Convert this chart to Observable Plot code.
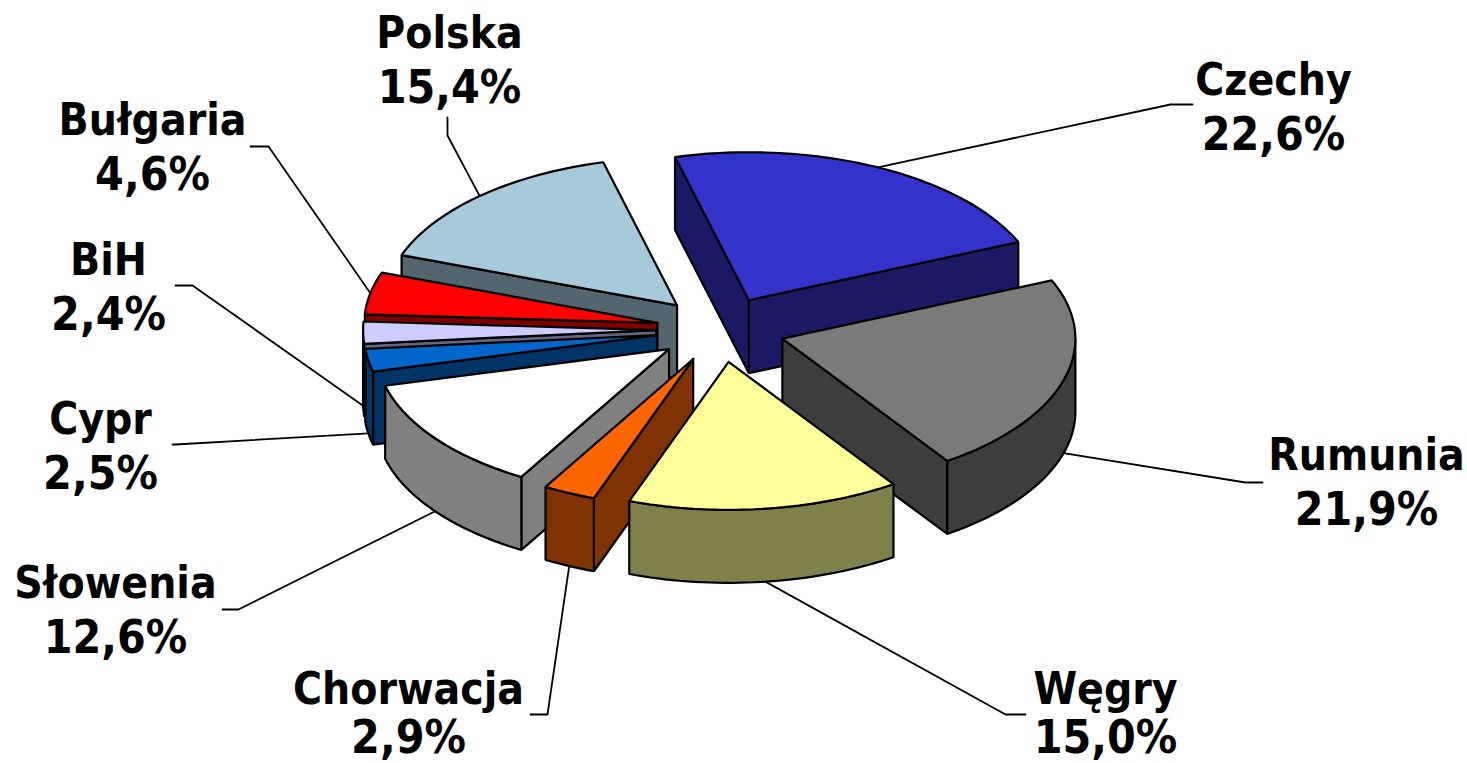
<!DOCTYPE html>
<html lang="pl">
<head>
<meta charset="utf-8">
<title>Udział krajów</title>
<script src="https://cdn.jsdelivr.net/npm/d3@7"></script>
<script src="https://cdn.jsdelivr.net/npm/@observablehq/plot@0.6"></script>
<style>
  html, body { margin: 0; padding: 0; background: #fff; overflow: hidden; }
  svg { display: block; }
</style>
</head>
<body>
<div id="chart"></div>
<script>
// Data, clockwise from the first slice
const categories = ["Czechy", "Rumunia", "Węgry", "Chorwacja", "Słowenia", "Cypr", "BiH", "Bułgaria", "Polska"];
const shares = [22.6, 21.9, 15.0, 2.9, 12.6, 2.5, 2.4, 4.6, 15.4];
const valueLabels = ["22,6%", "21,9%", "15,0%", "2,9%", "12,6%", "2,5%", "2,4%", "4,6%", "15,4%"];
const topColors = ["#3333CC", "#7A7A7A", "#FFFF99", "#FF6600", "#FFFFFF", "#0066CC", "#CCCCFF", "#FF0000", "#A6CAD9"];
const wallColors = ["#1A1A66", "#3D3D3D", "#80804D", "#803300", "#808080", "#003366", "#666680", "#800000", "#53656D"];

// Label layout in the chart's pixel space
const labelX = [1273, 1366, 1105, 408, 115, 100, 108, 152, 449];
const nameY = [80, 455, 689, 689, 583, 419, 260, 120, 33];
const valueY = [135, 510, 738, 738, 638, 474, 315, 175, 88];
const elbowX = [1170, 1245, 1005, 547, 238, 175, 192, 268, 447];
const elbowY = [104, 482, 714, 714, 609, 444, 285, 146, 135];
const stubX = [1192, 1262, 1025, 530, 222, 172, 175, 250, 447];
const stubY = [104, 482, 714, 714, 609, 444, 285, 146, 117];

// Pie projection
const cx = 720, cy = 329, rx = 293, ry = 148, depth = 73, explode = 0.22, startAngle = -14.6;
// Back-to-front painting order
const paintOrder = ["Polska", "Bułgaria", "BiH", "Cypr", "Słowenia", "Chorwacja", "Czechy", "Rumunia", "Węgry"];

const rad = (d) => (d * Math.PI) / 180;
const total = d3.sum(shares);
let acc = startAngle;
const slices = categories.map((name, i) => {
  const a0 = acc;
  const a1 = acc + (shares[i] / total) * 360;
  acc = a1;
  const mid = (a0 + a1) / 2;
  const ax = cx + explode * rx * Math.sin(rad(mid));
  const ay = cy - explode * ry * Math.cos(rad(mid));
  return {name, i, a0, a1, mid, ax, ay};
});
const rim = (s, a, drop = 0) => ({
  x: s.ax + rx * Math.sin(rad(a)),
  y: s.ay - ry * Math.cos(rad(a)) + drop
});
const arc = (s, from, to, drop = 0) => {
  const n = Math.max(2, Math.ceil(Math.abs(to - from) / 1.5));
  return d3.range(n + 1).map((k) => rim(s, from + ((to - from) * k) / n, drop));
};
const closed = (pts) => [...pts, pts[0]];

const outline = {stroke: "#000", strokeWidth: 2.2, strokeLinejoin: "miter", curve: "linear"};
const marks = [];
const poly = (pts, fill) => marks.push(Plot.line(closed(pts), {x: "x", y: "y", fill, ...outline}));

for (const name of paintOrder) {
  const s = slices.find((d) => d.name === name);
  const apex = {x: s.ax, y: s.ay};
  const apexLow = {x: s.ax, y: s.ay + depth};
  const wall = wallColors[s.i];
  // radial walls that face the viewer
  if (Math.sin(rad(s.a0)) < 0) poly([apex, rim(s, s.a0), rim(s, s.a0, depth), apexLow], wall);
  if (Math.sin(rad(s.a1)) > 0) poly([apex, rim(s, s.a1), rim(s, s.a1, depth), apexLow], wall);
  // outer wall: the front half of the rim
  const from = Math.max(s.a0, 90), to = Math.min(s.a1, 270);
  if (to > from) poly([...arc(s, from, to), ...arc(s, to, from, depth)], wall);
  // top face
  poly([apex, ...arc(s, s.a0, s.a1)], topColors[s.i]);
}

// Leader lines start on the rim at each slice's mid angle
const leader = {stroke: "#000", strokeWidth: 1.8, curve: "linear"};
slices.forEach((s) => {
  const back = Math.cos(rad(s.mid)) > 0;
  const from = rim(s, s.mid, back ? 0 : depth);
  marks.unshift(Plot.line(
    [from, {x: elbowX[s.i], y: elbowY[s.i]}, {x: stubX[s.i], y: stubY[s.i]}],
    {x: "x", y: "y", ...leader}
  ));
});

const labels = slices.map((s) => ({
  x: labelX[s.i], nameY: nameY[s.i], valueY: valueY[s.i], name: s.name, value: valueLabels[s.i]
}));
const labelFont = {
  x: "x",
  fontFamily: "'DejaVu Sans Condensed', 'DejaVu Sans', sans-serif",
  fontWeight: "bold", fill: "#000", textAnchor: "middle", lineAnchor: "middle"
};
marks.push(Plot.text(labels, {...labelFont, y: "nameY", text: "name", fontSize: 44}));
marks.push(Plot.text(labels, {...labelFont, y: "valueY", text: "value", fontSize: 46}));

const chart = Plot.plot({
  width: 1467, height: 763,
  margin: 0,
  style: {background: "#fff", overflow: "visible"},
  x: {domain: [0, 1467], range: [0, 1467], axis: null},
  y: {domain: [0, 763], range: [0, 763], axis: null},
  marks
});
document.getElementById("chart").append(chart);
</script>
</body>
</html>
